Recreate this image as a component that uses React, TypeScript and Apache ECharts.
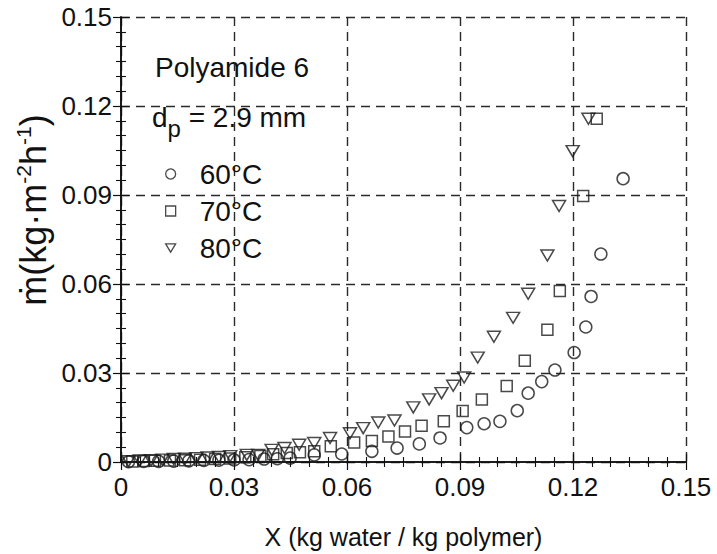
import React, { useEffect, useRef } from "react";
import * as echarts from "echarts";

const xTicks = [0, 0.03, 0.06, 0.09, 0.12, 0.15];
const seriesNames = ["60°C", "70°C", "80°C"];

// 60°C (circles)
const s60x = [0.002, 0.006, 0.010, 0.014, 0.018, 0.022, 0.026, 0.030, 0.034, 0.038, 0.0415, 0.0449, 0.0513, 0.0586, 0.0666, 0.0733, 0.0792, 0.0847, 0.0918, 0.0964, 0.1006, 0.1052, 0.1081, 0.1117, 0.1152, 0.1203, 0.1234, 0.1248, 0.1274, 0.1333];
const s60y = [0.0001, 0.0002, 0.0002, 0.0003, 0.0004, 0.0005, 0.0006, 0.0007, 0.0008, 0.001, 0.0011, 0.0013, 0.0024, 0.0027, 0.0036, 0.0047, 0.0061, 0.0081, 0.0116, 0.0129, 0.0137, 0.0173, 0.0232, 0.0271, 0.031, 0.0369, 0.0455, 0.0558, 0.0701, 0.0955];
// 70°C (squares)
const s70x = [0.003, 0.006, 0.009, 0.013, 0.017, 0.021, 0.025, 0.029, 0.033, 0.037, 0.0404, 0.044, 0.0475, 0.0513, 0.0557, 0.0619, 0.0666, 0.071, 0.0754, 0.0798, 0.0857, 0.0907, 0.0958, 0.1024, 0.1072, 0.1132, 0.1165, 0.1227, 0.1263];
const s70y = [0.0002, 0.0003, 0.0004, 0.0005, 0.0006, 0.0008, 0.001, 0.0012, 0.0016, 0.002, 0.0026, 0.003, 0.0033, 0.0036, 0.0053, 0.0066, 0.0071, 0.0086, 0.0103, 0.0122, 0.0137, 0.0172, 0.0211, 0.0256, 0.0341, 0.0446, 0.0576, 0.0897, 0.1157];
// 80°C (down triangles)
const s80x = [0.002, 0.005, 0.008, 0.011, 0.014, 0.017, 0.020, 0.023, 0.026, 0.029, 0.0334, 0.0364, 0.04, 0.0434, 0.0473, 0.0513, 0.0555, 0.0608, 0.0643, 0.0683, 0.0726, 0.0776, 0.0818, 0.0851, 0.0882, 0.0911, 0.0947, 0.099, 0.1041, 0.1081, 0.1132, 0.1163, 0.1199, 0.1241];
const s80y = [0.0003, 0.0005, 0.0006, 0.0008, 0.001, 0.0011, 0.0013, 0.0015, 0.0017, 0.002, 0.0024, 0.0024, 0.0041, 0.0047, 0.0058, 0.0064, 0.0081, 0.0097, 0.0114, 0.0133, 0.014, 0.0184, 0.0211, 0.0232, 0.0257, 0.0285, 0.0352, 0.0422, 0.0486, 0.0567, 0.0696, 0.0863, 0.1048, 0.1157];

const FONT = "'Liberation Sans', Arial, Helvetica, sans-serif";
const INK = "#111";
const MARK = "#1c1c1c";

const zip = (xs: number[], ys: number[]) => xs.map((x, i) => [x, ys[i]]);

export default function App() {
  const ref = useRef<HTMLDivElement>(null);
  useEffect(() => {
    if (!ref.current) return;
    const chart = echarts.init(ref.current, null, { renderer: "svg" });
    const fmt = (v: number) => (Math.abs(v) < 1e-9 ? "0" : v.toFixed(2));
    const gridLine = { show: true, lineStyle: { type: [9, 6] as any, color: "#2a2a2a", width: 1.4 } };
    const axisLine = { show: true, lineStyle: { color: "#111", width: 1.6 } };
    const mainX = {
      type: "value" as const,
      min: xTicks[0],
      max: xTicks[xTicks.length - 1],
      interval: 0.03,
      axisLine,
      axisTick: { show: true, inside: true, length: 8, lineStyle: { color: "#111", width: 1.2 } },
      minorTick: { show: true, splitNumber: 6, length: 5, lineStyle: { color: "#111", width: 1.1 } },
      splitLine: gridLine,
    };
    const itemStyle = { color: "rgba(0,0,0,0)", borderColor: MARK, borderWidth: 1.5 };
    const option = {
      animation: false,
      backgroundColor: "#fff",
      textStyle: { fontFamily: FONT },
      grid: { left: 121, top: 17, right: 31, bottom: 90, containLabel: false },
      xAxis: [
        {
          ...mainX,
          position: "bottom",
          axisLabel: { formatter: fmt, fontSize: 26, color: INK, fontFamily: FONT, margin: 12 },
          name: "X (kg water / kg polymer)",
          nameLocation: "middle",
          nameGap: 62,
          nameTextStyle: { fontSize: 25, color: INK, fontFamily: FONT },
        },
        { ...mainX, position: "top", axisLabel: { show: false }, splitLine: { show: false } },
      ],
      yAxis: [
        {
          ...mainX,
          position: "left",
          axisLabel: { formatter: fmt, fontSize: 26, color: INK, fontFamily: FONT, margin: 9 },
        },
        { ...mainX, position: "right", axisLabel: { show: false }, splitLine: { show: false } },
      ],
      legend: {
        orient: "vertical",
        left: 160,
        top: 155,
        itemWidth: 10,
        itemHeight: 10,
        itemGap: 9,
        data: seriesNames,
        itemStyle: { color: "rgba(0,0,0,0)", borderColor: MARK, borderWidth: 1.3 },
        textStyle: { fontSize: 28, color: INK, fontFamily: FONT, padding: [0, 0, 0, 19] },
      },
      graphic: [
        {
          type: "text",
          x: 155,
          y: 67,
          style: { text: "Polyamide 6", font: `28px ${FONT}`, fill: INK, textAlign: "left", textVerticalAlign: "middle" },
        },
        {
          type: "text",
          x: 152,
          y: 122,
          style: {
            text: "{a|d}{b|p}{a| = 2.9 mm}",
            fill: INK,
            textAlign: "left",
            textVerticalAlign: "middle",
            rich: {
              a: { fontSize: 28, fontFamily: FONT, fill: INK, color: INK, verticalAlign: "bottom", padding: [0, 0, 9, 0] },
              b: { fontSize: 24, fontFamily: FONT, fill: INK, color: INK, verticalAlign: "bottom", padding: [0, 0, 0, 0] },
            },
          },
        },
        {
          type: "text",
          x: 32,
          y: 210,
          rotation: Math.PI / 2,
          style: {
            text: "{a|ṁ(kg·m}{s|-2}{a|h}{s|-1}{a|)}",
            fill: INK,
            textAlign: "center",
            textVerticalAlign: "middle",
            rich: {
              a: { fontSize: 36, fontFamily: FONT, fill: INK, color: INK, verticalAlign: "bottom" },
              s: { fontSize: 21, fontFamily: FONT, fill: INK, color: INK, verticalAlign: "bottom", padding: [0, 0, 17, 0] },
            },
          },
        },
      ],
      series: [
        { name: seriesNames[0], type: "scatter", symbol: "circle", symbolSize: 12, itemStyle, data: zip(s60x, s60y) },
        { name: seriesNames[1], type: "scatter", symbol: "rect", symbolSize: 11, itemStyle, data: zip(s70x, s70y) },
        { name: seriesNames[2], type: "scatter", symbol: "path://M0,0L12,0L6,10Z", symbolSize: [13, 11], itemStyle, data: zip(s80x, s80y) },
      ],
    };
    chart.setOption(option as any);
    return () => chart.dispose();
  }, []);
  return <div ref={ref} style={{ width: 717, height: 554, position: "absolute", left: 0, top: 0 }} />;
}
